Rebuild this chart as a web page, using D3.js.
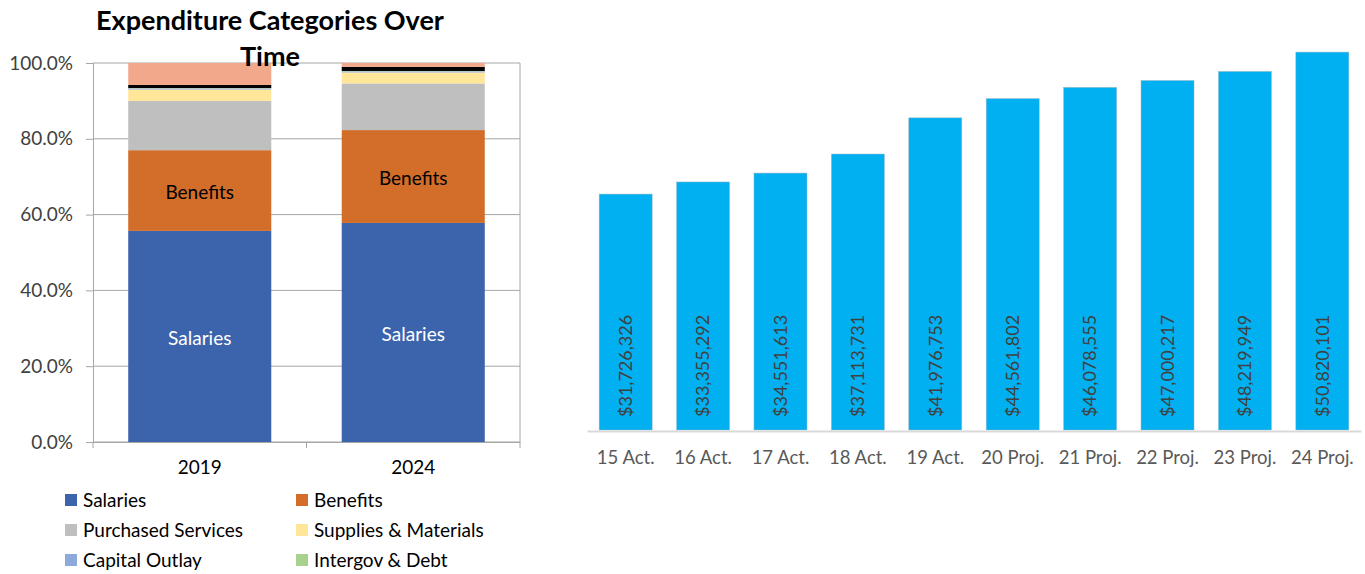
<!DOCTYPE html>
<html>
<head>
<meta charset="utf-8">
<script src="https://cdn.jsdelivr.net/npm/d3@7"></script>
<style>
  body { margin: 0; background: #fff; }
  svg { display: block; font-family: Lato, "Open Sans", sans-serif; }
</style>
</head>
<body>
<svg id="chart" width="1365" height="574"></svg>
<script>
// left chart: share of spending by category
const years = ['2019', '2024'];
const categories = ['Salaries', 'Benefits', 'Purchased Services', 'Supplies & Materials',
    'Capital Outlay', 'Intergov & Debt', 'Transfers', 'Other'];
const share2019 = [55.7, 21.3, 13.0, 3.0, 0.3, 0.1, 0.8, 5.8];
const share2024 = [57.8, 24.5, 12.3, 2.9, 0.3, 0.1, 1.1, 1.0];
const catColors = ['#3c64ad', '#d26d2a', '#bfbfbf', '#ffe699', '#8eaadb', '#a9d18e', '#000000', '#f2a98b'];
const legendShown = 6; // the rest of the legend falls below the picture
const pctTicks = [0, 20, 40, 60, 80, 100];

// right chart: total spending by year
const periods = ['15 Act.', '16 Act.', '17 Act.', '18 Act.', '19 Act.',
    '20 Proj.', '21 Proj.', '22 Proj.', '23 Proj.', '24 Proj.'];
const totals = [31726326, 33355292, 34551613, 37113731, 41976753,
    44561802, 46078555, 47000217, 48219949, 50820101];

const svg = d3.select('#chart');

// ---------- stacked percent chart ----------
const left = svg.append('g');
const x1 = d3.scaleBand().domain(years).range([93, 520]).paddingInner(0.33).paddingOuter(0.165);
const y1 = d3.scaleLinear().domain([0, 100]).range([442, 63]);

// gridlines
left.append('g')
    .selectAll('line')
    .data(pctTicks)
    .join('line')
    .attr('x1', 93).attr('x2', 520)
    .attr('y1', d => y1(d)).attr('y2', d => y1(d))
    .attr('stroke', '#a6a6a6').attr('stroke-width', 1);

left.append('line')
    .attr('x1', 520).attr('x2', 520).attr('y1', y1(100)).attr('y2', y1(0))
    .attr('stroke', '#a6a6a6');

const rows = years.map((yr, i) => {
    const vals = i === 0 ? share2019 : share2024;
    const row = { year: yr };
    categories.forEach((c, j) => { row[c] = vals[j]; });
    return row;
});
const stacked = d3.stack().keys(categories)(rows);

left.append('g')
    .selectAll('g')
    .data(stacked)
    .join('g')
    .attr('fill', (d, i) => catColors[i])
    .selectAll('rect')
    .data(d => d)
    .join('rect')
    .attr('x', d => x1(d.data.year))
    .attr('width', x1.bandwidth())
    .attr('y', d => y1(d[1]))
    .attr('height', d => y1(d[0]) - y1(d[1]));

// segment labels for the two big series
[0, 1].forEach(k => {
    left.append('g')
        .selectAll('text')
        .data(stacked[k])
        .join('text')
        .attr('x', d => x1(d.data.year) + x1.bandwidth() / 2)
        .attr('y', d => (y1(d[0]) + y1(d[1])) / 2 + 2)
        .attr('dy', '0.35em')
        .attr('text-anchor', 'middle')
        .attr('font-size', 19)
        .attr('fill', k === 0 ? '#ffffff' : '#000000')
        .text(categories[k]);
});

// y axis
const yAxis = d3.axisLeft(y1).tickValues(pctTicks).tickFormat(d => d.toFixed(1) + '%').tickSize(7);
const yg = left.append('g').attr('transform', 'translate(93,0)').call(yAxis);
yg.select('.domain').attr('stroke', '#a6a6a6');
yg.selectAll('.tick line').attr('stroke', '#a6a6a6');
yg.selectAll('.tick text').attr('font-size', 19).attr('fill', '#404040')
    .attr('font-family', 'Lato, sans-serif').attr('x', -20);

// x axis
const xg = left.append('g').attr('transform', 'translate(0,442)')
    .call(d3.axisBottom(x1).tickSize(0).tickPadding(19));
xg.select('.domain').attr('stroke', '#a6a6a6');
xg.selectAll('.tick text').attr('font-size', 19).attr('fill', '#000')
    .attr('font-family', 'Lato, sans-serif');
xg.append('g')
    .selectAll('line')
    .data([93, 306.5, 520])
    .join('line')
    .attr('x1', d => d).attr('x2', d => d).attr('y1', 0).attr('y2', 6)
    .attr('stroke', '#a6a6a6');

// title
left.append('text')
    .attr('x', 270).attr('y', 30)
    .attr('text-anchor', 'middle').attr('font-size', 27).attr('font-weight', 'bold')
    .text('Expenditure Categories Over');
left.append('text')
    .attr('x', 270).attr('y', 66)
    .attr('text-anchor', 'middle').attr('font-size', 27).attr('font-weight', 'bold')
    .text('Time');

// legend
const legend = left.append('g')
    .selectAll('g')
    .data(categories.slice(0, legendShown))
    .join('g')
    .attr('transform', (d, i) => `translate(${i % 2 === 0 ? 65 : 296},${494 + Math.floor(i / 2) * 30})`);
legend.append('rect')
    .attr('width', 12).attr('height', 12)
    .attr('fill', (d, i) => catColors[i]);
legend.append('text')
    .attr('x', 18).attr('y', 6).attr('dy', '0.35em')
    .attr('font-size', 19).attr('fill', '#000')
    .text(d => d);

// ---------- totals bar chart ----------
const right = svg.append('g');
const x2 = d3.scaleBand().domain(periods).range([587, 1361]).paddingInner(0.315).paddingOuter(0.157);
const y2 = d3.scaleLinear().domain([0, 55000000]).range([430, 21]);

right.append('g')
    .selectAll('rect')
    .data(periods)
    .join('rect')
    .attr('x', d => x2(d))
    .attr('width', x2.bandwidth())
    .attr('y', (d, i) => y2(totals[i]))
    .attr('height', (d, i) => y2(0) - y2(totals[i]))
    .attr('fill', '#00b0f0')
    .attr('stroke', '#9fb8c8').attr('stroke-width', 0.5);

right.append('g')
    .selectAll('text')
    .data(periods)
    .join('text')
    .attr('transform', d => `translate(${x2(d) + x2.bandwidth() / 2},${y2(0) - 13}) rotate(-90)`)
    .attr('dy', '0.35em')
    .attr('font-size', 18).attr('fill', '#404040')
    .text((d, i) => '$' + d3.format(',')(totals[i]));

const xg2 = right.append('g').attr('transform', 'translate(0,431)')
    .call(d3.axisBottom(x2).tickSize(0).tickPadding(20));
xg2.select('.domain').attr('stroke', '#d9d9d9').attr('stroke-width', 2);
xg2.selectAll('.tick text').attr('font-size', 18.5).attr('fill', '#595959')
    .attr('font-family', 'Lato, sans-serif');
</script>
</body>
</html>
